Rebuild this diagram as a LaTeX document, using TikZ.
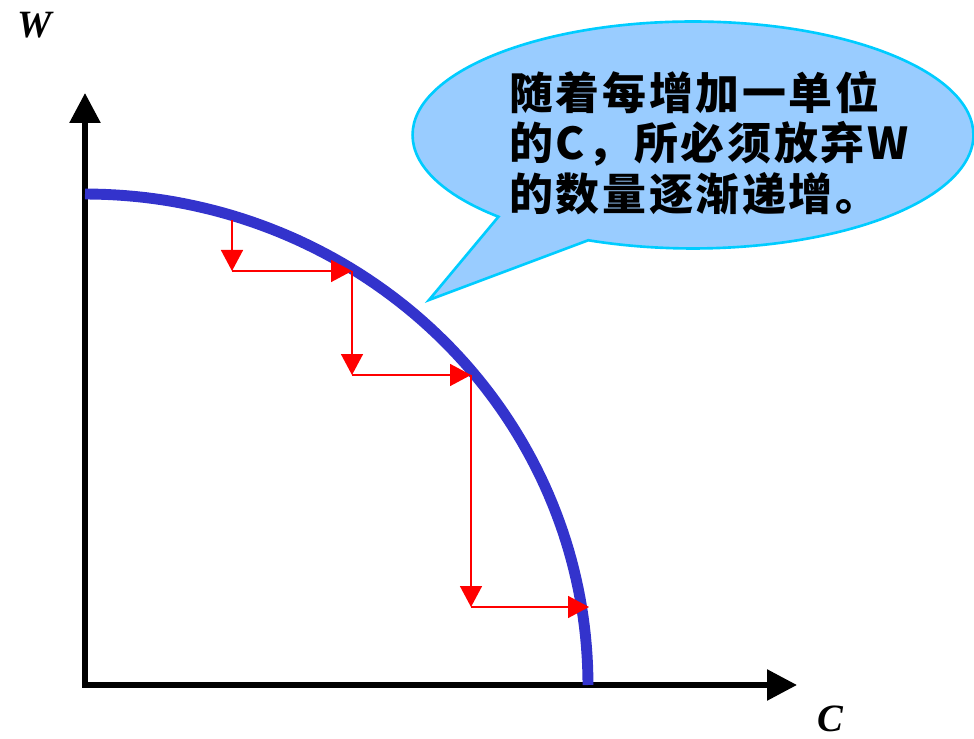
\documentclass[tikz,border=0pt]{standalone}
\usepackage{fontspec}
\setmainfont{Liberation Serif}
\newfontfamily\cjk{Noto Sans CJK SC}[LetterSpace=6]
\usetikzlibrary{arrows.meta,shapes.callouts}
\definecolor{curva}{HTML}{3333CC}
\definecolor{globofondo}{HTML}{99CCFF}
\definecolor{globoborde}{HTML}{00CCFF}
\tikzset{
  eje/.style={line width=3.2pt, {Triangle[length=0.6cm,width=0.6cm]}-{Triangle[length=0.6cm,width=0.6cm]}},
  paso/.style={red, line width=0.9pt, -{Triangle[length=0.42cm,width=0.44cm]}},
  globo/.style={ellipse callout, draw=globoborde, fill=globofondo, line width=1.5pt,
    minimum width=11.22cm, minimum height=4.54cm, callout pointer arc=22},
  texto/.style={font=\cjk\bfseries\fontsize{25}{28.7}\selectfont, align=left, inner sep=0pt},
  rotulo/.style={font=\fontsize{22}{22}\selectfont\bfseries\itshape, inner sep=0pt}
}
\begin{document}
\begin{tikzpicture}[x=0.02cm, y=-0.02cm, line join=miter]
  \useasboundingbox (0,0) rectangle (974,739);
  % los ejes
  \coordinate (O) at (85,685);
  \coordinate (Wtip) at (85,93);
  \coordinate (Ctip) at (797,685);
  \draw[eje] (Wtip) -- (O) -- (Ctip);
  \node[rotulo] (W) at (35,25) {W};
  \node[rotulo] (C) at (830,719) {C};
  % la curva
  \draw[curva, line width=6.2pt] plot[domain=0:90, samples=80] ({85+503*cos(\x)}, {685-491*sin(\x)});
  % los pasos
  \coordinate (a1) at (232,220); \coordinate (b1) at (232,271);
  \coordinate (a2) at (352,271); \coordinate (b2) at (352,375);
  \coordinate (a3) at (471,375); \coordinate (b3) at (471,607);
  \coordinate (a4) at (589,607);
  \draw[paso] (a1) -- (b1); \draw[paso] (b1) -- (a2);
  \draw[paso] (a2) -- (b2); \draw[paso] (b2) -- (a3);
  \draw[paso] (a3) -- (b3); \draw[paso] (b3) -- (a4);
  % el globo
  \node[globo, callout absolute pointer={(429,300)}] (globo) at (693,135) {};
  \node[texto, anchor=west] (msg) at (509,143) {随着每增加一单位\\的C，所必须放弃W\\的数量逐渐递增。};
\end{tikzpicture}
\end{document}
